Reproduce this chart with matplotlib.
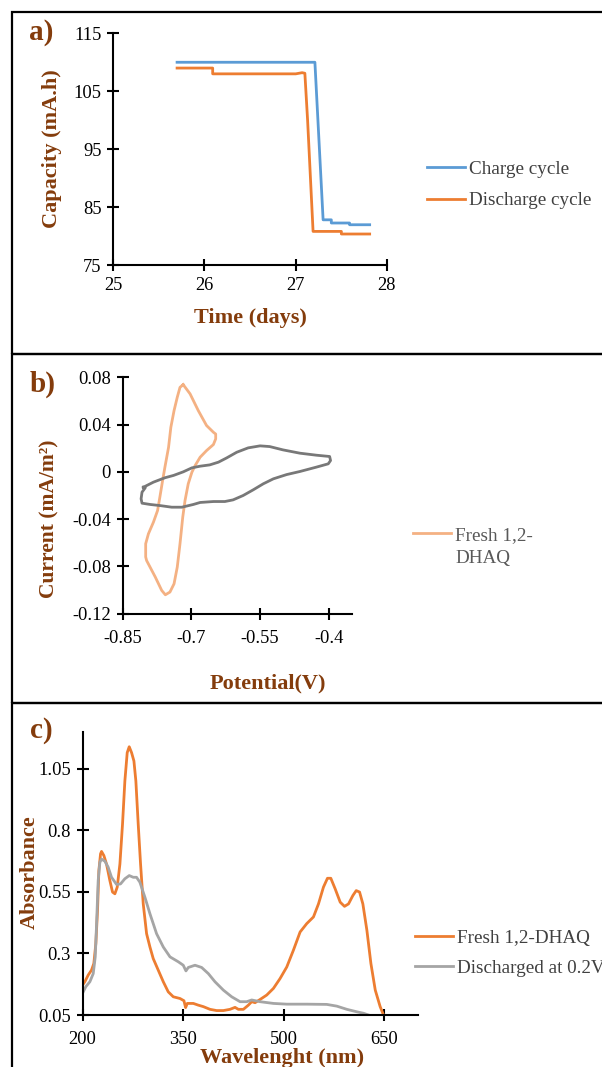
import matplotlib
matplotlib.use("Agg")
import matplotlib.pyplot as plt
from matplotlib.patches import Rectangle

# ---------------- data ----------------
# panel a: capacity vs time
charge_t = [25.70, 27.21, 27.30, 27.39, 27.39, 27.59, 27.59, 27.81]
charge_c = [110.0, 110.0, 82.8, 82.8, 82.25, 82.25, 81.95, 81.95]
discharge_t = [25.70, 26.09, 26.09, 27.00, 27.07, 27.10, 27.13, 27.19, 27.50, 27.50, 27.81]
discharge_c = [109.0, 109.0, 108.0, 108.0, 108.2, 108.1, 100.0, 80.8, 80.8, 80.35, 80.35]

# panel b: cyclic voltammograms
fresh_v = [-0.718, -0.703, -0.685, -0.667, -0.652, -0.647, -0.647, -0.652, -0.667, -0.681,
           -0.692, -0.699, -0.707, -0.714, -0.719, -0.725, -0.731, -0.738, -0.747, -0.757,
           -0.765, -0.779, -0.798, -0.800, -0.800, -0.794, -0.783, -0.774, -0.769, -0.763,
           -0.758, -0.750, -0.745, -0.738, -0.731, -0.725, -0.718]
fresh_i = [0.0738, 0.066, 0.0518, 0.0392, 0.0335, 0.032, 0.0279, 0.0231, 0.018, 0.0124,
           0.0053, -0.0003, -0.0101, -0.0242, -0.0383, -0.0608, -0.0806, -0.0947, -0.1017, -0.104,
           -0.1003, -0.089, -0.075, -0.072, -0.0608, -0.0524, -0.0425, -0.0327, -0.0214, -0.0073,
           0.0039, 0.0208, 0.0377, 0.0518, 0.0631, 0.0715, 0.0738]
aged_v = [-0.805, -0.783, -0.758, -0.739, -0.718, -0.699, -0.681, -0.660, -0.641, -0.623,
          -0.601, -0.576, -0.550, -0.529, -0.500, -0.463, -0.427, -0.398, -0.396, -0.401,
          -0.427, -0.463, -0.492, -0.521, -0.543, -0.565, -0.587, -0.609, -0.627, -0.652,
          -0.681, -0.696, -0.721, -0.743, -0.769, -0.790, -0.808, -0.810, -0.808, -0.801, -0.805]
aged_i = [-0.013, -0.0087, -0.005, -0.003, 0.0, 0.0034, 0.0048, 0.0059, 0.0082, 0.0118,
          0.0166, 0.0203, 0.022, 0.0214, 0.0186, 0.0158, 0.0141, 0.013, 0.0096, 0.0068,
          0.004, 0.0003, -0.0023, -0.0059, -0.0101, -0.0152, -0.020, -0.0237, -0.0251, -0.0251,
          -0.0259, -0.0276, -0.0299, -0.0299, -0.0285, -0.0276, -0.0265, -0.0228, -0.0172, -0.0135, -0.013]

# panel c: UV-vis spectra
fresh_wl = [200, 203.5, 208.5, 213.4, 216.9, 219.9, 222.4, 224.4, 226.9, 228.4, 231.9, 235.8,
            240.8, 244.8, 248.3, 251.8, 255.8, 259.7, 263.2, 266.7, 269.7, 273.2, 276.7, 279.6,
            283.1, 286.6, 290.6, 295.6, 300.6, 305.5, 313.0, 320.5, 327.9, 335.4, 345.4, 351.3,
            353.8, 356.3, 365.3, 372.7, 380.2, 390.2, 400.1, 410.1, 420.0, 427.5, 432.5, 440.0,
            447.4, 452.4, 457.4, 464.9, 474.8, 484.8, 494.7, 504.7, 514.6, 524.6, 534.5, 544.5,
            552.0, 559.4, 565.4, 570.4, 576.9, 584.4, 590.8, 596.8, 603.3, 608.3, 613.3, 618.2,
            624.2, 630.2, 636.7, 644.0, 649.0]
fresh_abs = [0.171, 0.185, 0.212, 0.232, 0.259, 0.340, 0.474, 0.636, 0.704, 0.714, 0.697, 0.663,
             0.596, 0.549, 0.542, 0.569, 0.663, 0.825, 1.000, 1.115, 1.139, 1.115, 1.081, 1.000,
             0.825, 0.663, 0.501, 0.380, 0.326, 0.279, 0.232, 0.185, 0.144, 0.124, 0.117, 0.108,
             0.080, 0.097, 0.097, 0.090, 0.084, 0.073, 0.068, 0.068, 0.073, 0.081, 0.073, 0.073,
             0.090, 0.104, 0.100, 0.113, 0.131, 0.158, 0.198, 0.245, 0.313, 0.387, 0.421, 0.448,
             0.501, 0.569, 0.605, 0.605, 0.562, 0.508, 0.491, 0.501, 0.535, 0.555, 0.549, 0.501,
             0.394, 0.259, 0.151, 0.084, 0.050]
disc_wl = [200, 205, 211, 216, 219, 221, 223.4, 225.9, 228.4, 233.4, 238.3, 243.3, 250.8,
           256.7, 263.2, 269.7, 275.7, 280.6, 285.6, 293.1, 300.6, 310.5, 320.5, 330.5, 342.9,
           350.3, 354.3, 357.8, 367.8, 377.7, 387.7, 397.6, 410.1, 422.5, 435.0, 444.9, 452.4,
           464.9, 484.8, 504.7, 534.5, 564.4, 579.3, 594.3, 609.2, 619.2, 626.6]
disc_abs = [0.138, 0.165, 0.185, 0.218, 0.286, 0.420, 0.596, 0.670, 0.683, 0.674, 0.650, 0.609,
            0.580, 0.582, 0.603, 0.616, 0.609, 0.609, 0.589, 0.528, 0.461, 0.380, 0.326, 0.286,
            0.266, 0.252, 0.229, 0.243, 0.252, 0.243, 0.218, 0.185, 0.151, 0.124, 0.104, 0.104,
            0.111, 0.104, 0.097, 0.094, 0.094, 0.093, 0.086, 0.073, 0.063, 0.057, 0.050]

a_xticks = [25, 26, 27, 28]
a_yticks = [75, 85, 95, 105, 115]
b_xticks = [-0.85, -0.7, -0.55, -0.4]
b_xticklabels = ["-0.85", "-0.7", "-0.55", "-0.4"]
b_yticks = [-0.12, -0.08, -0.04, 0, 0.04, 0.08]
b_yticklabels = ["-0.12", "-0.08", "-0.04", "0", "0.04", "0.08"]
c_xticks = [200, 350, 500, 650]
c_yticks = [0.05, 0.3, 0.55, 0.8, 1.05]
c_yticklabels = ["0.05", "0.3", "0.55", "0.8", "1.05"]

# ---------------- style ----------------
plt.rcParams['font.family'] = ['Liberation Serif', 'DejaVu Serif']
plt.rcParams['axes.unicode_minus'] = False
W, H = 602, 1067
DPI = 100
BROWN = '#843C0C'
fig = plt.figure(figsize=(W / DPI, H / DPI), dpi=DPI)


def fx(px):
    return px / W


def fy(py):
    return 1 - py / H


def axes_px(left, top, right, bottom):
    return fig.add_axes([fx(left), fy(bottom), (right - left) / W, (bottom - top) / H])


def style(ax):
    for s in ('top', 'right'):
        ax.spines[s].set_visible(False)
    for s in ('left', 'bottom'):
        ax.spines[s].set_linewidth(1.5)
        ax.spines[s].set_color('black')
    ax.tick_params(direction='inout', length=9, width=1.5, labelsize=13.3, colors='black', pad=4)
    ax.patch.set_alpha(0)


# panel borders
for top, bot in [(12, 354), (354, 703), (703, 1100)]:
    fig.add_artist(Rectangle((fx(12), fy(bot)), fx(700), (bot - top) / H,
                             transform=fig.transFigure, fill=False, lw=1.6,
                             edgecolor='black'))

# ---------------- panel a ----------------
axa = axes_px(113.2, 33.3, 387, 265)
axa.plot(charge_t, charge_c, color='#5B9BD5', lw=2.0, label='Charge cycle')
axa.plot(discharge_t, discharge_c, color='#ED7D31', lw=2.0, label='Discharge cycle')
axa.set_xlim(25, 28)
axa.set_ylim(75, 115)
axa.set_xticks(a_xticks)
axa.set_yticks(a_yticks)
style(axa)
axa.set_ylabel('Capacity (mA.h)', fontsize=16, fontweight='bold', color=BROWN)
axa.yaxis.set_label_coords(fx(52), fy(149), transform=fig.transFigure)
axa.yaxis.label.set_va('center')
axa.set_xlabel('Time (days)', fontsize=16, fontweight='bold', color=BROWN)
axa.xaxis.set_label_coords(fx(250.5), fy(318), transform=fig.transFigure)
axa.xaxis.label.set_va('center')
fig.text(fx(41), fy(32), 'a)', fontsize=21, fontweight='bold', color=BROWN, ha='center', va='center')
leg = axa.legend(loc='center left', bbox_to_anchor=(fx(427), fy(185)), bbox_transform=fig.transFigure,
                 frameon=False, fontsize=13.8, handlelength=2.0, handletextpad=0.17,
                 labelspacing=0.72, borderpad=0, borderaxespad=0)
for t in leg.get_texts():
    t.set_color('#404040')

# ---------------- panel b ----------------
axb = axes_px(122.8, 377.3, 351.6, 613.7)
lf, = axb.plot(fresh_v, fresh_i, color='#F4B183', lw=2.0, label='Fresh 1,2-')
axb.plot(aged_v, aged_i, color='#787878', lw=2.0)
axb.set_xlim(-0.85, -0.35)
axb.set_ylim(-0.12, 0.08)
axb.set_xticks(b_xticks)
axb.set_xticklabels(b_xticklabels)
axb.set_yticks(b_yticks)
axb.set_yticklabels(b_yticklabels)
style(axb)
axb.tick_params(axis='x', pad=7)
axb.set_ylabel('Current (mA/m²)', fontsize=15.5, fontweight='bold', color=BROWN)
axb.yaxis.set_label_coords(fx(49), fy(519), transform=fig.transFigure)
axb.yaxis.label.set_va('center')
axb.set_xlabel('Potential(V)', fontsize=16, fontweight='bold', color=BROWN)
axb.xaxis.set_label_coords(fx(268), fy(683), transform=fig.transFigure)
axb.xaxis.label.set_va('center')
fig.text(fx(43), fy(384), 'b)', fontsize=21, fontweight='bold', color=BROWN, ha='center', va='center')
legb = axb.legend(handles=[lf], loc='center left', bbox_to_anchor=(fx(413), fy(535)),
                  bbox_transform=fig.transFigure, frameon=False, fontsize=13.8,
                  handlelength=2.0, handletextpad=0.2, borderpad=0, borderaxespad=0)
for t in legb.get_texts():
    t.set_color('#595959')
# second line of the wrapped legend label
fig.text(fx(455.5), fy(558), 'DHAQ', fontsize=13.8, color='#595959', ha='left', va='center')

# ---------------- panel c ----------------
axc = axes_px(82.5, 731.7, 417.7, 1015)
axc.plot(fresh_wl, fresh_abs, color='#ED7D31', lw=2.0, label='Fresh 1,2-DHAQ')
axc.plot(disc_wl, disc_abs, color='#A5A5A5', lw=2.0, label='Discharged at 0.2V')
axc.set_xlim(200, 700)
axc.set_ylim(0.05, 1.2)
axc.set_xticks(c_xticks)
axc.set_yticks(c_yticks)
axc.set_yticklabels(c_yticklabels)
style(axc)
axc.tick_params(axis='x', pad=7)
axc.set_ylabel('Absorbance', fontsize=16, fontweight='bold', color=BROWN)
axc.yaxis.set_label_coords(fx(30), fy(872.5), transform=fig.transFigure)
axc.yaxis.label.set_va('center')
axc.set_xlabel('Wavelenght (nm)', fontsize=16, fontweight='bold', color=BROWN)
axc.xaxis.set_label_coords(fx(282), fy(1058), transform=fig.transFigure)
axc.xaxis.label.set_va('center')
fig.text(fx(41), fy(731), 'c)', fontsize=21, fontweight='bold', color=BROWN, ha='center', va='center')
legc = axc.legend(loc='center left', bbox_to_anchor=(fx(415), fy(953)), bbox_transform=fig.transFigure,
                  frameon=False, fontsize=13.8, handlelength=2.0, handletextpad=0.17,
                  labelspacing=0.66, borderpad=0, borderaxespad=0)
for t in legc.get_texts():
    t.set_color('#404040')

fig.savefig('out.png', dpi=DPI)
